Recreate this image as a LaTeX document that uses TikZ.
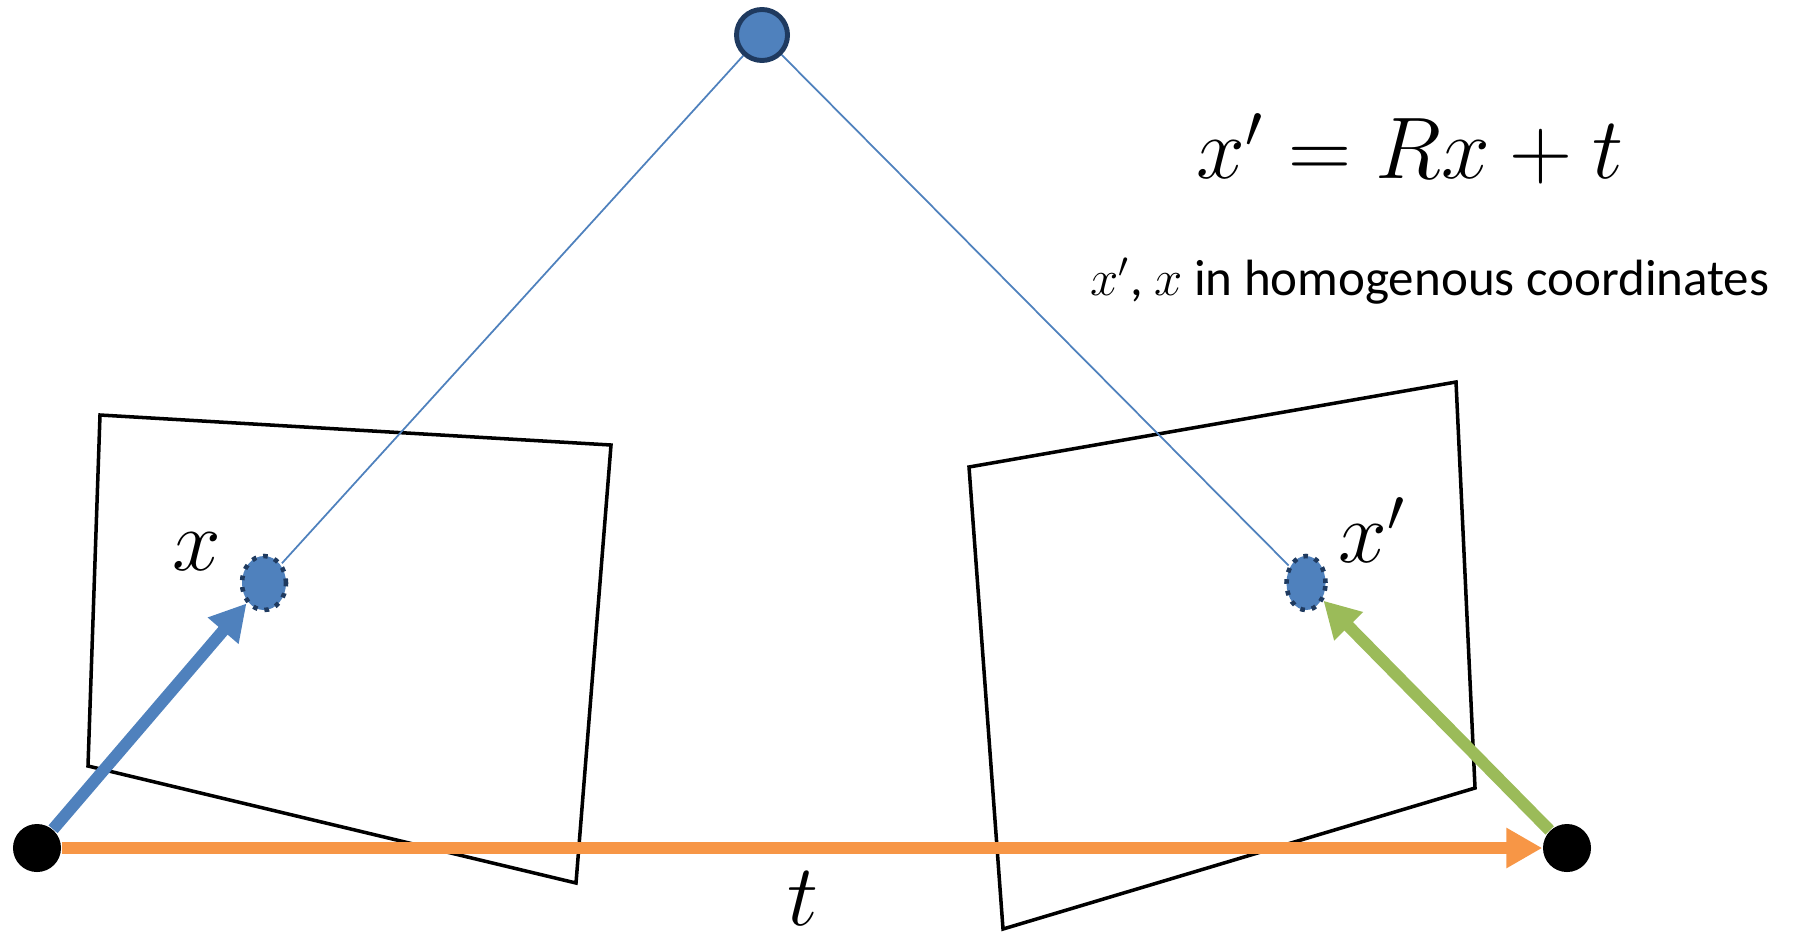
\documentclass[tikz,border=0pt]{standalone}
\usepackage{amsmath}
\usepackage{fontspec}
\setmainfont{Carlito}
\usetikzlibrary{shapes.geometric,arrows.meta,positioning}

\definecolor{ptblue}{HTML}{4F81BD}
\definecolor{ptnavy}{HTML}{1F3A5F}
\definecolor{vorange}{HTML}{F79646}
\definecolor{vgreen}{HTML}{9BBB59}

\begin{document}
\begin{tikzpicture}[x=0.01cm, y=-0.01cm,
  campt/.style={circle, fill=black, minimum size=4.8mm, inner sep=0pt},
  worldpt/.style={circle, fill=ptblue, draw=ptnavy, line width=1.4pt, minimum size=5.1mm, inner sep=0pt},
  imgpt/.style={ellipse, fill=ptblue, draw=ptnavy, line width=1.3pt, dotted, inner sep=0pt},
  plane/.style={draw=black, line width=1pt},
  ray/.style={draw=ptblue, line width=0.5pt},
  vec/.style={line width=3.4pt, -{Triangle[length=3.6mm, width=3.8mm]}},
  mathlbl/.style={font=\fontsize{25}{30}\selectfont, inner sep=1pt},
  notelbl/.style={font=\fontsize{14.5}{18}\selectfont, inner sep=1pt}]
  \useasboundingbox (0,0) rectangle (1798,936);

  % 像平面
  \draw[plane] (100,415) -- (611,445) -- (576,883) -- (88,766) -- cycle;
  \draw[plane] (969,467) -- (1456,382) -- (1475,788) -- (1003,929) -- cycle;

  % 点
  \node[worldpt] (P) at (762,35) {};
  \node[imgpt, minimum width=4.4mm, minimum height=5.4mm] (x) at (264,583) {};
  \node[imgpt, minimum width=3.9mm, minimum height=5.4mm] (xp) at (1306,583) {};
  \node[campt] (c1) at (37,848) {};
  \node[campt] (c2) at (1567,848) {};

  % 投影线
  \draw[ray] (P) -- (x);
  \draw[ray] (P) -- (xp);

  % 向量
  \draw[vec, ptblue] (c1) -- (x);
  \draw[vec, vgreen] (c2) -- (xp);
  \draw[vec, vorange] (c1) -- (c2);

  % 标签
  \node[mathlbl] (xlbl) at (197,552) {$x$};
  \node[mathlbl] (xplbl) at (1372,530) {$x'$};
  \node[mathlbl] (tlbl) at (803,899) {$t$};
  \node[mathlbl] (eq) at (1410,149) {$x' = Rx + t$};
  \node[notelbl] (note) at (1430,281) {$x'$, $x$ in homogenous coordinates};
\end{tikzpicture}
\end{document}
